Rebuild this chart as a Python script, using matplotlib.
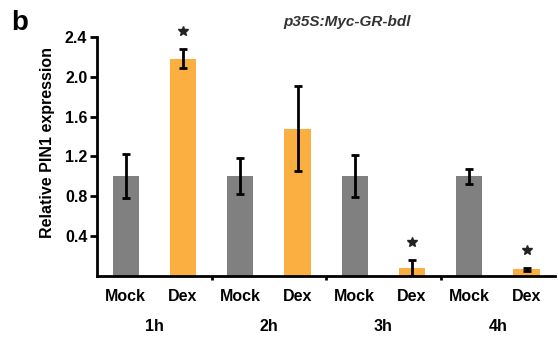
import matplotlib.pyplot as plt
import numpy as np

plt.rcParams['font.family'] = ['Liberation Sans', 'DejaVu Sans']
plt.rcParams['font.weight'] = 'bold'

times = ['1h', '2h', '3h', '4h']
mock_vals = [1.0, 1.0, 1.0, 1.0]
mock_err = [0.22, 0.18, 0.21, 0.075]
dex_vals = [2.18, 1.48, 0.08, 0.07]
dex_err = [0.095, 0.43, 0.08, 0.015]
significant = [True, False, True, True]
yticks = [0.4, 0.8, 1.2, 1.6, 2.0, 2.4]

fig = plt.figure(figsize=(5.58, 3.38), dpi=100)
ax = fig.add_axes([0.174, 0.183, 0.821, 0.708])

x = np.arange(len(times))
w = 0.23
ekw = dict(elinewidth=2, capthick=2, capsize=3)
ax.bar(x + 0.25, mock_vals, w, color='#808080', yerr=mock_err,
       error_kw=ekw, ecolor='black')
ax.bar(x + 0.75, dex_vals, w, color='#FAAF40', yerr=dex_err,
       error_kw=ekw, ecolor='black')

# stars over the significant Dex bars
for i in range(len(times)):
    if significant[i]:
        ax.plot(x[i] + 0.75, dex_vals[i] + dex_err[i] + 0.18, marker='*',
                color='#222222', markersize=7.5, linestyle='none', clip_on=False)

ax.set_xlim(0, 4)
ax.set_ylim(0, 2.4)
ax.set_yticks(yticks)
ax.set_yticklabels(['%.1f' % t for t in yticks], fontsize=11.5, fontweight='bold')
ax.set_xticks([1, 2, 3])
ax.set_xticklabels([])
ax.tick_params(axis='x', direction='out', length=3, width=2)
ax.tick_params(axis='y', direction='out', length=5, width=2, pad=2)

for s in ['top', 'right']:
    ax.spines[s].set_visible(False)
for s in ['left', 'bottom']:
    ax.spines[s].set_linewidth(2)

for i, t in enumerate(times):
    ax.text(i + 0.25, -0.2, 'Mock', ha='center', va='center', fontsize=11.5,
            fontweight='bold', clip_on=False)
    ax.text(i + 0.75, -0.2, 'Dex', ha='center', va='center', fontsize=11.5,
            fontweight='bold', clip_on=False)
    ax.text(i + 0.5, -0.5, t, ha='center', va='center', fontsize=11.5,
            fontweight='bold', clip_on=False)

ax.set_ylabel('Relative PIN1 expression', fontsize=11.5, fontweight='bold')
ax.yaxis.set_label_coords(-0.092, 0.56)
fig.text(0.02, 0.97, 'b', fontsize=20, fontweight='bold', va='top')
fig.text(0.507, 0.955, 'p35S:Myc-GR-bdl', fontsize=11, fontweight='bold',
         style='italic', color='#333333', va='top')

fig.savefig('out.png', dpi=100)
